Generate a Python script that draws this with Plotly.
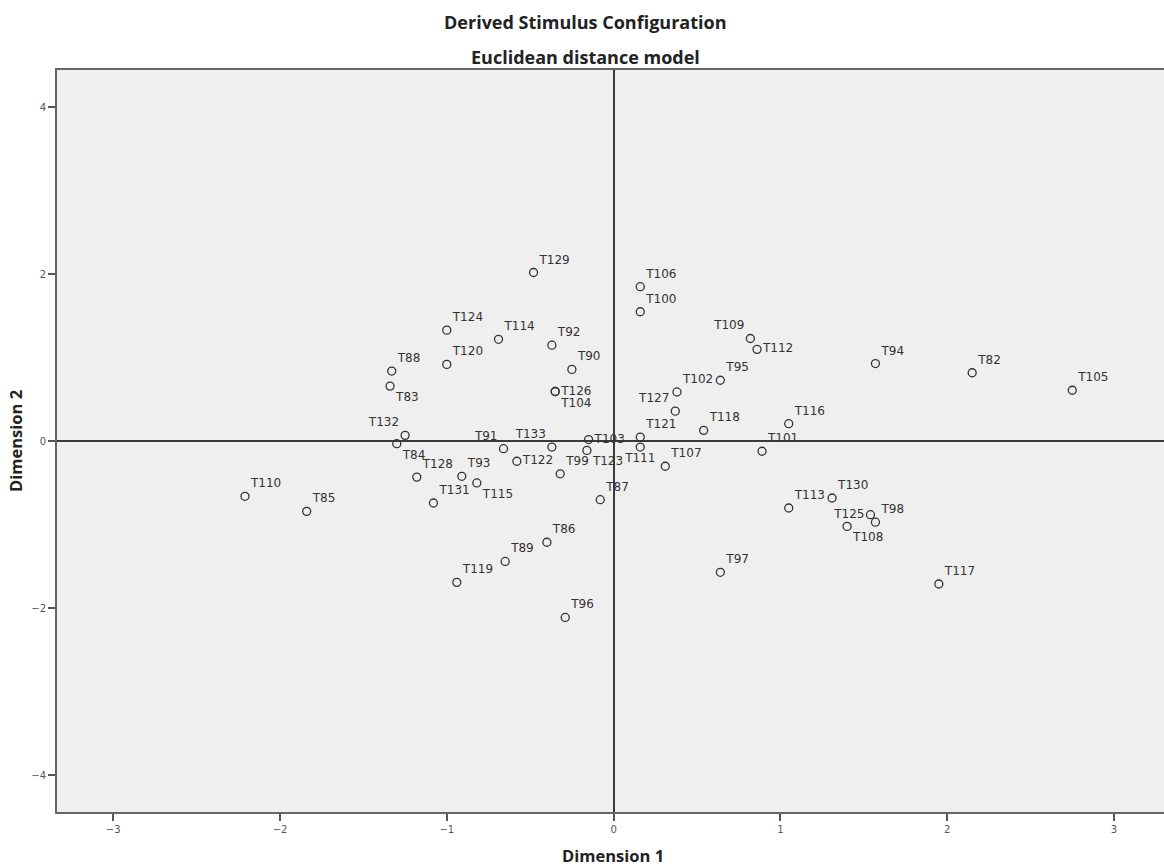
import plotly.graph_objects as go

labels = ["T129", "T124", "T114", "T92", "T120", "T88", "T90", "T83", "T126", "T104",
          "T132", "T84", "T91", "T133", "T103", "T123", "T122", "T128", "T93", "T115",
          "T131", "T99", "T87", "T110", "T85", "T86", "T89", "T119", "T96",
          "T106", "T100", "T109", "T112", "T95", "T102", "T127", "T118", "T116",
          "T121", "T111", "T107", "T101", "T94", "T82", "T105", "T113", "T130",
          "T125", "T98", "T108", "T117", "T97"]
dim1 = [-0.48, -1.00, -0.69, -0.37, -1.00, -1.33, -0.25, -1.34, -0.35, -0.35,
        -1.25, -1.30, -0.66, -0.37, -0.15, -0.16, -0.58, -1.18, -0.91, -0.82,
        -1.08, -0.32, -0.08, -2.21, -1.84, -0.40, -0.65, -0.94, -0.29,
        0.16, 0.16, 0.82, 0.86, 0.64, 0.38, 0.37, 0.54, 1.05,
        0.16, 0.16, 0.31, 0.89, 1.57, 2.15, 2.75, 1.05, 1.31,
        1.54, 1.57, 1.40, 1.95, 0.64]
dim2 = [2.02, 1.33, 1.22, 1.15, 0.92, 0.84, 0.86, 0.66, 0.595, 0.595,
        0.07, -0.03, -0.09, -0.07, 0.02, -0.11, -0.24, -0.43, -0.42, -0.50,
        -0.74, -0.39, -0.70, -0.66, -0.84, -1.21, -1.44, -1.69, -2.11,
        1.85, 1.55, 1.23, 1.10, 0.73, 0.59, 0.36, 0.13, 0.21,
        0.05, -0.07, -0.30, -0.12, 0.93, 0.82, 0.61, -0.80, -0.68,
        -0.88, -0.97, -1.02, -1.71, -1.57]

x_ticks = [-3, -2, -1, 0, 1, 2, 3]
y_ticks = [-4, -2, 0, 2, 4]

# label placement (style)
pos_override = {
    "T83": "bottom right", "T104": "bottom right", "T126": "middle right",
    "T132": "top left", "T84": "bottom right", "T91": "top left",
    "T122": "middle right", "T133": "top left", "T103": "middle right",
    "T123": "bottom right", "T115": "bottom right", "T109": "top left",
    "T111": "bottom center", "T127": "top left", "T125": "middle left",
    "T108": "bottom right", "T112": "middle right",
}
positions = [pos_override.get(l, "top right") for l in labels]

fig = go.Figure()
fig.add_trace(go.Scatter(
    x=dim1, y=dim2, mode="markers+text", text=labels,
    textposition=positions,
    textfont=dict(family="DejaVu Sans", size=12, color="#333333"),
    marker=dict(symbol="circle-open", size=8, color="#333333",
                line=dict(width=1.3, color="#333333")),
    cliponaxis=False, showlegend=False,
))

axis_common = dict(
    showgrid=False, zeroline=True, zerolinecolor="#3a3a3a", zerolinewidth=1.5,
    showline=True, linecolor="#666666", linewidth=2,
    ticks="outside", ticklen=7, tickcolor="#555555", tickwidth=1.5,
    tickfont=dict(family="DejaVu Sans", size=10, color="#555555"),
)

fig.update_xaxes(range=[-3.337, 3.30], tickvals=x_ticks, mirror=True, **axis_common)
fig.update_yaxes(range=[-4.44, 4.445], tickvals=y_ticks, **axis_common)

title_font = dict(family="Open Sans", size=18, color="#222222")
axis_font = dict(family="Open Sans", size=16.5, color="#222222")
ann = [
    dict(text="<b>Derived Stimulus Configuration</b>", x=0.477, y=1.0647, font=title_font),
    dict(text="<b>Euclidean distance model</b>", x=0.477, y=1.0175, font=title_font),
    dict(text="<b>Dimension 1</b>", x=0.502, y=-0.058, font=axis_font),
    dict(text="<b>Dimension 2</b>", x=-0.038, y=0.5, textangle=-90, font=axis_font),
]
for a in ann:
    fig.add_annotation(xref="paper", yref="paper", showarrow=False,
                       xanchor="center", yanchor="middle", **a)

fig.update_layout(
    width=1164, height=867,
    margin=dict(l=57, r=0, t=70, b=55),
    plot_bgcolor="#efefef", paper_bgcolor="white",
)

fig.write_html("out.html")
